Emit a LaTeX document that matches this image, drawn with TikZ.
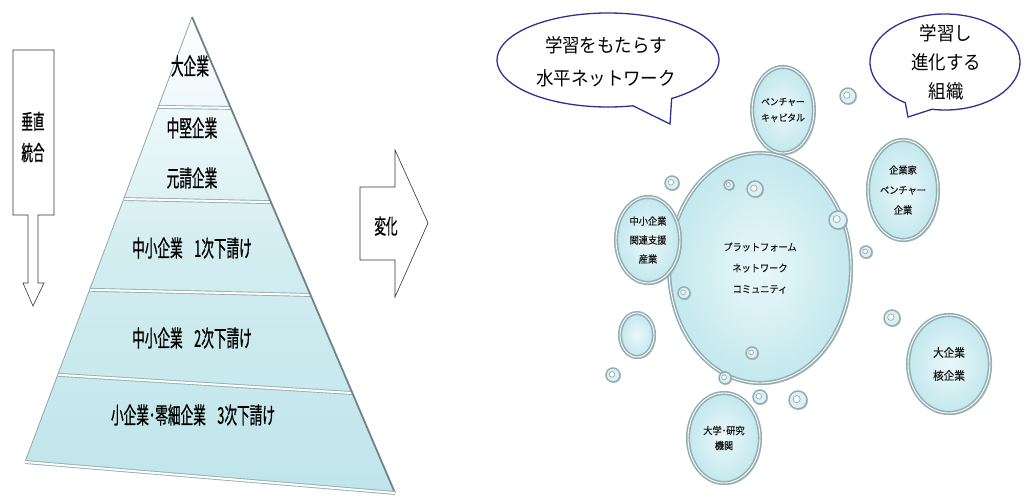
\documentclass[tikz,border=0pt]{standalone}
\usepackage{fontspec}
\newfontfamily\jpcond[FakeStretch=0.55, FakeBold=0.7]{Noto Sans CJK JP}
\newfontfamily\jp[FakeStretch=0.92, FakeBold=0.6]{Noto Sans CJK JP}
\newfontfamily\jptalk[FakeStretch=0.92]{Noto Sans CJK JP}
\usetikzlibrary{calc,shapes.geometric,shadows}

\definecolor{bandfill}{HTML}{BFE5EA}
\definecolor{rim}{HTML}{93AFB4}
\definecolor{rimdark}{HTML}{6F8488}
\definecolor{bubblein}{HTML}{EAF8FA}
\definecolor{bubbleout}{HTML}{C3E8ED}
\definecolor{talkblue}{HTML}{2E3192}

\tikzset{
    tier/.style={font=\jpcond\fontsize{23}{24}\selectfont, inner sep=0pt},
    divider/.style={draw=rim, line width=0.9pt, double=white, double distance=2pt},
    blockarrow/.style={draw=black!80, line width=0.6pt, fill=white},
    talk/.style={draw=talkblue, line width=1.3pt, fill=white},
    talktext/.style={font=\jptalk\fontsize{19}{33}\selectfont, align=center, inner sep=0pt},
    bubble/.style={ellipse, inner sep=0pt, align=center, text=black!90,
        inner color=bubblein, outer color=bubbleout,
        draw=rim, line width=1.6pt, double=white, double distance=0.9pt,
        drop shadow={shadow xshift=1.8pt, shadow yshift=-2pt, opacity=0.45},
        font=\jp\fontsize{10}{19}\selectfont},
    drop/.style={draw=rim, line width=1.5pt, fill=bubbleout!60!white,
        drop shadow={shadow xshift=1pt, shadow yshift=-1pt, opacity=0.4}}
}

\begin{document}
\begin{tikzpicture}[x=1pt, y=-1pt]

    \useasboundingbox (0,0) rectangle (1024,503);

    % pyramid
    \coordinate (apex) at (192,17);
    \coordinate (bl) at (25,462);
    \coordinate (br) at (395,493);

    \fill[top color=white, bottom color=bandfill, middle color=bandfill!70!white]
        (apex) -- (bl) -- (br) -- cycle;
    \foreach \l/\r in {0.202/0.191, 0.409/0.389, 0.613/0.584, 0.804/0.790}
        \draw[divider] ($(apex)!\l!(bl)$) -- ($(apex)!\r!(br)$);
    \draw[rim, line width=0.8pt] (apex) -- (bl);
    \draw[rimdark, line width=1.8pt] (apex) -- (br);
    \draw[divider] (bl) -- (br);

    \node[tier] (top) at (190,66) {大企業};
    \node[tier] (mid) at (192,128) {中堅企業};
    \node[tier] (prime) at (192,178) {元請企業};
    \node[tier] (sub1) at (192,248) {中小企業\enspace 1次下請け};
    \node[tier] (sub2) at (192,338) {中小企業\enspace 2次下請け};
    \node[tier] (sub3) at (193,415) {小企業･零細企業\enspace 3次下請け};

    % down arrow
    \draw[blockarrow] (13,50) -- (54,50) -- (54,215) -- (38,215) -- (38,283)
        -- (44,283) -- (33,306) -- (23,283) -- (28,283) -- (28,215) -- (13,215) -- cycle;
    \node[tier, align=center, font=\jpcond\fontsize{21}{31}\selectfont] (vert) at (33,137) {垂直\\統合};

    % right arrow
    \draw[blockarrow] (360,187) -- (395,187) -- (395,150) -- (428,223)
        -- (395,297) -- (395,260) -- (360,260) -- cycle;
    \node[tier, font=\jpcond\fontsize{21}{24}\selectfont] (change) at (386,226) {変化};

    % speech balloons
    \coordinate (say1) at (608,60);
    \draw[talk] ($(say1)+(55:111 and 47)$)
        arc[start angle=55, end angle=-283, x radius=111, y radius=47] -- (670,124) -- cycle;
    \node[talktext] (say1txt) at (606,62) {学習をもたらす\\水平ネットワーク};

    \coordinate (say2) at (945,62);
    \draw[talk] ($(say2)+(100:75 and 48)$)
        arc[start angle=100, end angle=-238, x radius=75, y radius=48] -- (908,117) -- cycle;
    \node[talktext, font=\jptalk\fontsize{19}{29}\selectfont] (say2txt) at (946,62) {学習し\\進化する\\組織};

    % bubbles
    \node[bubble, minimum width=182, minimum height=230, font=\jp\fontsize{10}{21}\selectfont]
        (hub) at (760,268) {プラットフォーム\\ネットワーク\\コミュニティ};
    \node[bubble, minimum width=60, minimum height=86, font=\jp\fontsize{9.5}{16}\selectfont]
        (venture) at (783,110) {ベンチャー\\キャピタル};
    \node[bubble, minimum width=70, minimum height=100, font=\jp\fontsize{10}{20}\selectfont]
        (entre) at (903,190) {企業家\\ベンチャー\\企業};
    \node[bubble, minimum width=64, minimum height=86]
        (support) at (648,240) {中小企業\\関連支援\\産業};
    \node[bubble, minimum width=82, minimum height=98, font=\jp\fontsize{11.5}{23}\selectfont]
        (large) at (949,364) {大企業\\核企業};
    \node[bubble, minimum width=72, minimum height=90, font=\jp\fontsize{10}{15}\selectfont]
        (univ) at (724,438) {大学･研究\\機関};
    \node[bubble, minimum width=34, minimum height=44] (spare) at (637,335) {};

    % small drops
    \foreach \x/\y/\r in {848/96/8, 672/183/7, 729/185/5, 755/189/8, 838/220/9,
        866/252/6, 684/293/6, 613/375/7, 725/378/6, 752/353/6, 760/397/7,
        798/400/9, 892/318/8} {
        \draw[drop] (\x,\y) circle[radius=\r];
        \draw[rimdark!70, line width=0.7pt, fill=white] (\x-0.15*\r,\y-0.1*\r) circle[radius=0.4*\r];
    }

\end{tikzpicture}
\end{document}
